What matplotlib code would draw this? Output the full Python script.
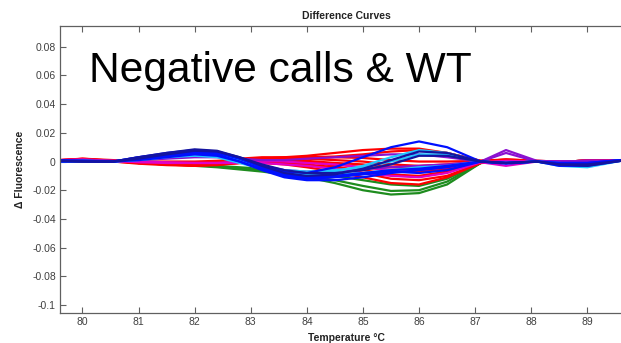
import matplotlib
matplotlib.use("Agg")
import matplotlib.pyplot as plt
import matplotlib.ticker as mticker
import numpy as np

plt.rcParams['font.family'] = ['Liberation Sans', 'DejaVu Sans']
plt.rcParams['axes.unicode_minus'] = False

temps = [79.6, 80.0, 80.55, 81.0, 81.5, 82.0, 82.4, 82.8, 83.2, 83.6, 84.0,
         84.5, 85.0, 85.5, 86.0, 86.5, 87.1, 87.55, 88.1, 88.5, 89.0, 89.6]

# difference curves, values in units of 0.001 (delta fluorescence)
green_curves = [
    [0.5, 0.5, 0, -0.5, -1.5, -3, -4, -5.5, -7, -9, -11, -15, -20, -23, -22, -16, -1, -0.5, 0, 0, 0.5, 0.5],
    [0.5, 0.5, 0, -0.5, -1, -2.5, -3.5, -5, -6, -8, -10, -13, -17, -20.5, -20, -14, -1, -0.5, 0, 0, 0.5, 0.5],
    [0.5, 0, 0, 0, -1, -2, -3, -4, -5, -6, -8, -10, -13, -16, -17, -12, -1, 0, 0, 0, 0.5, 0.5],
]
red_curves = [
    [1, 1.5, 0.5, -0.5, -1, -1.5, -1, 1, 2, 3, 3, 3.5, 5, 7, 8, 6, 0.5, 1, 0, 0, 0.5, 0.5],
    [0.5, 2, 0.5, -1, -2, -2, -1.5, 0, 1, 1.5, 2, 1, 0, -2, -3, -2, 0, 1.5, 0.5, 0, 0.5, 0.5],
    [1, 1.5, 0, -1.5, -2.5, -3, -2.5, -1, 0, 0, -0.5, -2, -4, -6, -7, -5, -0.5, 0.5, 0, 0, 0.5, 0.5],
    [0, 1, 0.5, 0, 0, 0, 0.5, 1.5, 2, 1.5, 0, -3, -8, -12, -13, -10, -1, 0.5, 0, 0, 0.5, 0.5],
    [1, 2, 1, -1, -2, -3, -2, -1, -1, -2, -4, -7, -11, -15, -16, -11, -1, 0, 0, 0, 0.5, 0.5],
    [0.5, 1, 0.5, 0, -1, -1, 0, 2, 3, 3, 4, 6, 8, 9, 9, 6, 0.5, 1, 0, 0, 0.5, 1],
    [1, 1.5, 0.5, -1, -2, -2.5, -2, -1, -0.5, -1, -2, -4, -6, -9, -10, -7, -0.5, 0.5, 0, 0, 0.5, 0.5],
    [0.5, 1, 0, -1, -1.5, -2, -1.5, 0, 1, 2, 2.5, 3, 2.5, 1, 0, 0, 0.5, 1.5, 0.5, 0, 0.5, 0.5],
    [1, 1.5, 0.5, -0.5, -1.5, -2, -1, 0.5, 1.5, 1, 0.5, -1, -2, -4, -4.5, -3, 0, 1, 0, 0, 0.5, 0.5],
]
magenta_curves = [
    [1, 1.5, 0.5, -0.5, -1, -1, -1, -1, -1, -2, -3, -5, -8, -10, -11, -8, -0.5, 0.5, 0, 0, 0.5, 0.5],
    [1, 1, 0, 0, -0.5, -1, -1, 0, 0.5, 0, -1, -2, -4, -6, -6, -4, -0.5, -3, 0, 0, 0.5, 0.5],
]
purple_curves = [
    [0.5, 1, 0.5, 1, 2, 3, 3, 2, 1, 1, 2, 3, 4, 5, 5, 3, 0, 8, 0.5, 0, 0.5, 0.5],
    [0.5, 1, 0, 1, 3, 5, 4, 1, -3, -6, -7, -6, -5, -4, -3, -2, 0, 6, 0, 0, 0.5, 0.5],
]
cyan_curves = [
    [0, 0.5, 0, 2, 4, 5, 4, 1, -3, -6, -7, -6, -4, 0, 5, 5, 0, -1, 0, -2, -3, 1],
    [0, 0, 0, 1, 3, 4, 3, -1, -5, -8, -9, -9, -8, -6, -4, -3, 0, -1, 0, -3, -4, 0.5],
    [0, 0.5, 0, 2, 4, 6, 5, 1, -4, -7, -8, -7, -3, 3, 8, 6, 0, -1, 0, -1, -2, 1],
]
blue_curves = [
    [1, 0.5, 0, 3, 5, 7, 6, 2, -3, -7, -8, -4, 3, 10, 14, 10, 0, -1, 0, -1, -1, 1],
    [0.5, 0.5, 0, 3, 6, 8, 7, 2, -4, -9, -11, -10, -8, -6, -5, -3, 0, -1, 0, -2, -2, 1],
    [0, 0.5, 0, 2, 4, 6, 5, 0, -6, -11, -13, -13, -11, -8, -6, -4, 0, -1.5, 0, -1, -1, 1],
    [0, 0, 0, 1, 3, 5, 4, 0, -5, -10, -12, -11, -9, -7, -8, -6, 0, -1, 0, -3, -3, 0.5],
]
navy_curves = [
    [0.5, 0, 0, 2, 5, 7.5, 7, 3, -2, -6, -8, -8, -6, -2, 4, 4, 0, -1, 0, -2, -3, 0.5],
    [0.5, 0, 0, 3, 6, 8.5, 7.5, 3, -3, -8, -10, -9, -5, 1, 7, 6, 0, -1, 0, -2, -2, 0.5],
]

x_ticks = [80, 81, 82, 83, 84, 85, 86, 87, 88, 89]
y_ticks = [-0.1, -0.08, -0.06, -0.04, -0.02, 0, 0.02, 0.04, 0.06, 0.08]

fig = plt.figure(figsize=(6.21, 3.43), dpi=100)
ax = fig.add_axes([60 / 621, 1 - 313 / 343, 561 / 621, 287 / 343])

groups = [
    (green_curves, '#1e8c1e'),
    (red_curves, '#ff0000'),
    (magenta_curves, '#e000c8'),
    (purple_curves, '#8a10d0'),
    (cyan_curves, '#20c8ff'),
    (blue_curves, '#0010ff'),
    (navy_curves, '#1414a0'),
]
for curves, col in groups:
    for c in curves:
        ax.plot(temps, np.array(c) * 0.001, color=col, lw=1.6, solid_joinstyle='round')

ax.set_xlim(79.6, 89.6)
ax.set_ylim(-0.1056, 0.0945)
ax.set_xticks(x_ticks)
ax.set_yticks(y_ticks)
ax.yaxis.set_major_formatter(mticker.FuncFormatter(lambda v, p: '%g' % round(v, 3)))

for side in ['left', 'top', 'bottom']:
    ax.spines[side].set_color('#606060')
    ax.spines[side].set_linewidth(0.9)
ax.spines['right'].set_visible(False)
ax.tick_params(direction='in', length=4, width=0.8, color='#606060',
               labelsize=7.5, labelcolor='#404040', pad=3,
               top=True, right=False)

ax.set_title('Difference Curves', fontsize=7.5, fontweight='bold', color='#222222',
             x=0.511, pad=5)
ax.set_xlabel('Temperature °C', fontsize=7.5, fontweight='bold', color='#222222')
ax.xaxis.set_label_coords(0.511, -0.07)
ax.set_ylabel('Δ Fluorescence', fontsize=7.5, fontweight='bold', color='#222222')
ax.yaxis.set_label_coords(-0.062, 0.5)

fig.text(89 / 621, 1 - 82 / 343, 'Negative calls & WT', fontsize=30.6,
         color='black', va='baseline', ha='left')

fig.savefig('out.png', dpi=100)
